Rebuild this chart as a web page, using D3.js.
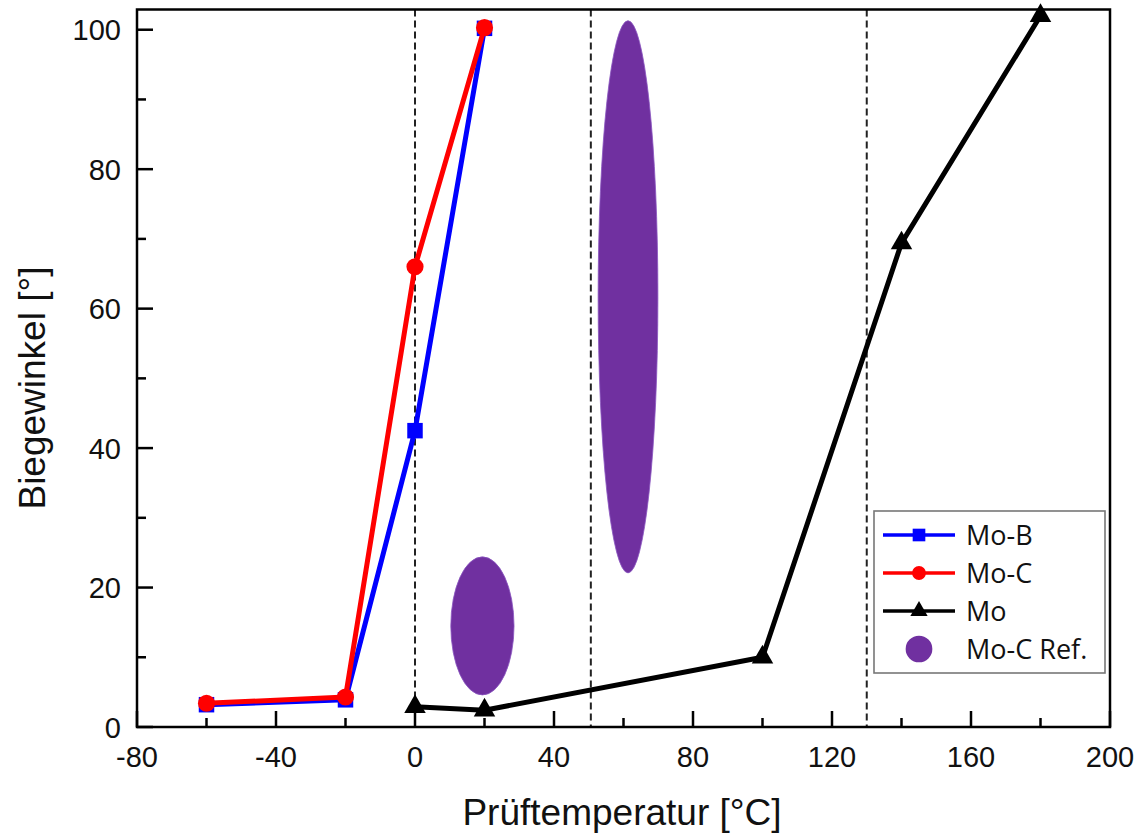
<!DOCTYPE html>
<html>
<head>
<meta charset="utf-8">
<script src="https://cdn.jsdelivr.net/npm/d3@7"></script>
<style>
  html, body { margin: 0; padding: 0; background: #fff; }
  svg { display: block; }
</style>
</head>
<body>
<svg id="chart" width="1145" height="836"></svg>
<script>
// Bending angle vs. test temperature
const tempMoB = [-60, -20, 0, 20];
const angleMoB = [3.2, 3.9, 42.5, 100.2];

const tempMoC = [-60, -20, 0, 20];
const angleMoC = [3.4, 4.3, 66.0, 100.3];

const tempMo = [0, 20, 100, 140, 180];
const angleMo = [2.9, 2.4, 10.0, 69.4, 102.0];

// Reference scatter regions (centre temperature, temperature spread, angle range)
const refTemp = [19.4, 61.3];
const refTempSpread = [9.1, 8.6];
const refAngleLow = [4.6, 22.1];
const refAngleHigh = [24.4, 101.3];

// Transition temperatures marked with dashed lines
const markerTemps = [0, 50.6, 130];

const xMajorTicks = [-80, -40, 0, 40, 80, 120, 160, 200];
const xMinorTicks = [-60, -20, 20, 60, 100, 140, 180];
const yMajorTicks = [0, 20, 40, 60, 80, 100];
const yMinorTicks = [10, 30, 50, 70, 90];

const seriesNames = ["Mo-B", "Mo-C", "Mo", "Mo-C Ref."];

const svg = d3.select("#chart");
const plotLeft = 137, plotRight = 1110, plotTop = 9.5, plotBottom = 727;

const x = d3.scaleLinear().domain([-80, 200]).range([plotLeft, plotRight]);
const y = d3.scaleLinear().domain([0, 102.9]).range([plotBottom, plotTop]);

const purple = "#7030a0";

// reference regions
const refs = refTemp.map((t, i) => ({
  t, dt: refTempSpread[i], lo: refAngleLow[i], hi: refAngleHigh[i]
}));
svg.append("g").selectAll("ellipse").data(refs).join("ellipse")
  .attr("cx", d => x(d.t))
  .attr("cy", d => y((d.lo + d.hi) / 2))
  .attr("rx", d => x(d.t + d.dt) - x(d.t))
  .attr("ry", d => y(d.lo) - y((d.lo + d.hi) / 2))
  .attr("fill", purple)
  .attr("stroke", "#8a55c0")
  .attr("stroke-width", 0.8);

// dashed vertical lines
svg.append("g").selectAll("line").data(markerTemps).join("line")
  .attr("x1", d => x(d)).attr("x2", d => x(d))
  .attr("y1", plotTop).attr("y2", plotBottom)
  .attr("stroke", "#222").attr("stroke-width", 2)
  .attr("stroke-dasharray", "7,4");

const line = d3.line().x(d => x(d[0])).y(d => y(d[1]));

function drawSeries(temps, vals, color, symbolType, size) {
  const pts = temps.map((t, i) => [t, vals[i]]);
  const g = svg.append("g");
  g.append("path").datum(pts).attr("d", line)
    .attr("fill", "none").attr("stroke", color)
    .attr("stroke-width", 5).attr("stroke-linejoin", "round");
  g.selectAll("path.m").data(pts).join("path").attr("class", "m")
    .attr("transform", d => `translate(${x(d[0])},${y(d[1])})`)
    .attr("d", d3.symbol().type(symbolType).size(size))
    .attr("fill", color);
}

drawSeries(tempMo, angleMo, "#000", d3.symbolTriangle, 200);
drawSeries(tempMoB, angleMoB, "#0000ff", d3.symbolSquare, 240);
drawSeries(tempMoC, angleMoC, "#ff0000", d3.symbolCircle, 230);

// frame
svg.append("rect")
  .attr("x", plotLeft).attr("y", plotTop)
  .attr("width", plotRight - plotLeft).attr("height", plotBottom - plotTop)
  .attr("fill", "none").attr("stroke", "#000").attr("stroke-width", 2.5);

const tickFont = "Liberation Sans, Arial, sans-serif";

// x axis ticks (inward)
const xAxis = svg.append("g");
xAxis.selectAll("line.maj").data(xMajorTicks).join("line").attr("class", "maj")
  .attr("x1", d => x(d)).attr("x2", d => x(d))
  .attr("y1", plotBottom).attr("y2", plotBottom - 16)
  .attr("stroke", "#000").attr("stroke-width", 2.5);
xAxis.selectAll("line.min").data(xMinorTicks).join("line").attr("class", "min")
  .attr("x1", d => x(d)).attr("x2", d => x(d))
  .attr("y1", plotBottom).attr("y2", plotBottom - 9)
  .attr("stroke", "#000").attr("stroke-width", 2.5);
xAxis.selectAll("text").data(xMajorTicks).join("text")
  .attr("x", d => x(d)).attr("y", 767)
  .attr("text-anchor", "middle")
  .attr("font-family", tickFont).attr("font-size", 29)
  .attr("fill", "#111")
  .text(d => d);

// y axis ticks (inward)
const yAxis = svg.append("g");
yAxis.selectAll("line.maj").data(yMajorTicks).join("line").attr("class", "maj")
  .attr("x1", plotLeft).attr("x2", plotLeft + 16)
  .attr("y1", d => y(d)).attr("y2", d => y(d))
  .attr("stroke", "#000").attr("stroke-width", 2.5);
yAxis.selectAll("line.min").data(yMinorTicks).join("line").attr("class", "min")
  .attr("x1", plotLeft).attr("x2", plotLeft + 9)
  .attr("y1", d => y(d)).attr("y2", d => y(d))
  .attr("stroke", "#000").attr("stroke-width", 2.5);
yAxis.selectAll("text").data(yMajorTicks).join("text")
  .attr("x", 121).attr("y", d => y(d) + 10.5)
  .attr("text-anchor", "end")
  .attr("font-family", tickFont).attr("font-size", 29)
  .attr("fill", "#111")
  .text(d => d);

// axis titles
svg.append("text")
  .attr("x", 622).attr("y", 825)
  .attr("text-anchor", "middle")
  .attr("font-family", tickFont).attr("font-size", 37)
  .attr("fill", "#111")
  .text("Prüftemperatur [°C]");
svg.append("text")
  .attr("transform", "translate(45,388) rotate(-90)")
  .attr("text-anchor", "middle")
  .attr("font-family", tickFont).attr("font-size", 37)
  .attr("fill", "#111")
  .text("Biegewinkel [°]");

// legend
const legend = svg.append("g");
legend.append("rect")
  .attr("x", 874).attr("y", 511).attr("width", 231).attr("height", 162)
  .attr("fill", "#fff").attr("stroke", "#777").attr("stroke-width", 1.6);

const legendItems = [
  { name: seriesNames[0], color: "#0000ff", sym: d3.symbolSquare, size: 160, line: true },
  { name: seriesNames[1], color: "#ff0000", sym: d3.symbolCircle, size: 150, line: true },
  { name: seriesNames[2], color: "#000", sym: d3.symbolTriangle, size: 130, line: true },
  { name: seriesNames[3], color: purple, sym: d3.symbolCircle, size: 560, line: false }
];
const rows = legend.selectAll("g.row").data(legendItems).join("g").attr("class", "row")
  .attr("transform", (d, i) => `translate(0,${535 + i * 38})`);
rows.filter(d => d.line).append("line")
  .attr("x1", 883).attr("x2", 955).attr("y1", 0).attr("y2", 0)
  .attr("stroke", d => d.color).attr("stroke-width", 3.5);
rows.append("path")
  .attr("transform", "translate(919,0)")
  .attr("d", d => d3.symbol().type(d.sym).size(d.size)())
  .attr("fill", d => d.color);
rows.append("text")
  .attr("x", 966).attr("y", 10)
  .attr("font-family", "Open Sans, sans-serif").attr("font-size", 27)
  .attr("fill", "#111")
  .text(d => d.name);
</script>
</body>
</html>
